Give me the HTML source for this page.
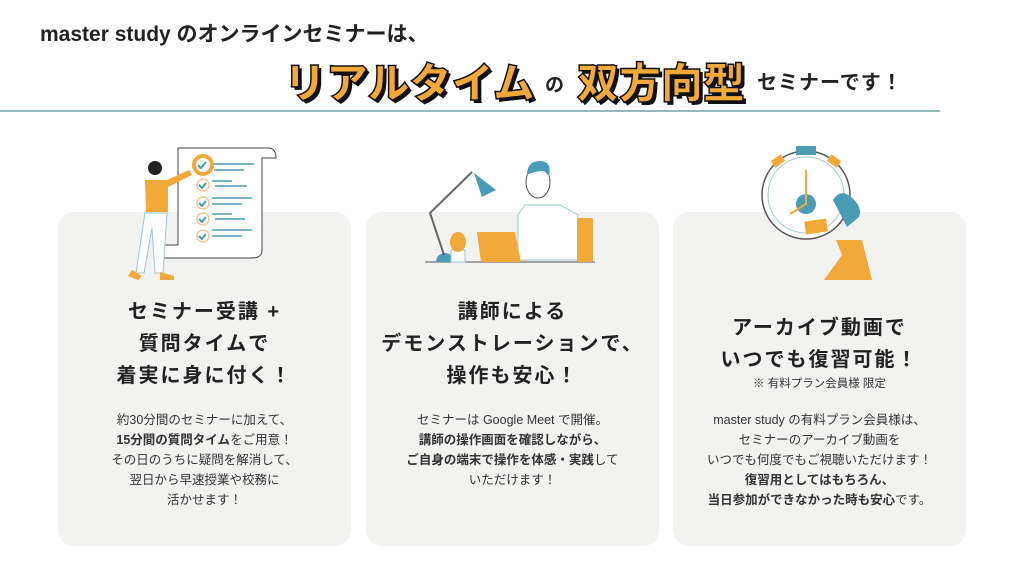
<!DOCTYPE html>
<html><head><meta charset="utf-8"><style>
body{margin:0;width:1024px;height:576px;background:#fff;position:relative;overflow:hidden;font-family:"Liberation Sans","Noto Sans CJK JP",sans-serif;color:#222}
.a{position:absolute;white-space:nowrap}
.card{position:absolute;top:212px;width:293px;height:334px;background:#f2f2f1;border-radius:16px}
.t{position:absolute;left:0;width:100%;text-align:center;font-weight:bold;font-size:20px;line-height:32px;letter-spacing:2px;color:#222}
.b{position:absolute;left:0;width:100%;text-align:center;font-size:12.5px;line-height:20px;color:#333}
.big{font-weight:900;font-size:42px;color:#f3a93a;-webkit-text-stroke:1.5px #111;text-shadow:3px 3px 0 #111}
</style></head><body>
<div class="a" style="left:40px;top:18px;font-size:21px;font-weight:bold">master study のオンラインセミナーは、</div>
<div class="a big" style="left:284px;top:50px">リアルタイム</div>
<div class="a" style="left:545px;top:70px;font-size:19px;font-weight:bold">の</div>
<div class="a big" style="left:577px;top:50px">双方向型</div>
<div class="a" style="left:757px;top:66px;font-size:20px;font-weight:bold;letter-spacing:1px">セミナーです！</div>
<div class="a" style="left:0;top:110px;width:940px;height:2px;background:#93b9b9"></div>

<div class="card" style="left:58px">
<div class="t" style="top:84px">セミナー受講 +<br>質問タイムで<br>着実に身に付く！</div>
<div class="b" style="top:198px">約30分間のセミナーに加えて、<br><b>15分間の質問タイム</b>をご用意！<br>その日のうちに疑問を解消して、<br>翌日から早速授業や校務に<br>活かせます！</div>
</div>
<div class="card" style="left:366px">
<div class="t" style="top:84px">講師による<br>デモンストレーションで、<br>操作も安心！</div>
<div class="b" style="top:198px">セミナーは Google Meet で開催。<br><b>講師の操作画面を確認しながら、<br>ご自身の端末で操作を体感・実践</b>して<br>いただけます！</div>
</div>
<div class="card" style="left:673px">
<div class="t" style="top:100px">アーカイブ動画で<br>いつでも復習可能！</div>
<div class="b" style="top:162px;font-size:11.5px">※ 有料プラン会員様 限定</div>
<div class="b" style="top:198px">master study の有料プラン会員様は、<br>セミナーのアーカイブ動画を<br>いつでも何度でもご視聴いただけます！<br><b>復習用としてはもちろん、<br>当日参加ができなかった時も安心</b>です。</div>
</div>

<svg class="a" style="left:0;top:0" width="1024" height="576">
<!-- doc -->
<path d="M178 148 H268 Q276 148 276 158 H262 V250 Q262 258 252 258 H158 V245 H178 Z" fill="#fff" stroke="#444" stroke-width="1"/>
<g fill="none" stroke-width="1.5">
<circle cx="203" cy="165" r="9" stroke="#f3a93a" stroke-width="4"/>
<circle cx="203" cy="185" r="6" stroke="#f3c890"/><circle cx="203" cy="203" r="6" stroke="#f3c890"/><circle cx="203" cy="219" r="6" stroke="#f3c890"/><circle cx="203" cy="236" r="6" stroke="#f3c890"/>
<path d="M198 165l3 3 5-6M199 185l3 3 4-5M199 203l3 3 4-5M199 219l3 3 4-5M199 236l3 3 4-5" stroke="#4a9bb5" stroke-width="2"/>
<path d="M214 164h40M214 170h30M212 181h20M215 186h32M212 198h40M212 204h30M212 214h20M215 219h30M212 230h40M212 236h30" stroke="#4a9bb5"/>
</g>
<path d="M145 180 h22 l22 -10 3 5 -24 12 v25 h-22z" fill="#f3a93a"/>
<path d="M145 213 h22 l-4 60 h-8 l-3-45 -8 45 h-8z" fill="#fff" stroke="#9cc7d6"/>
<circle cx="155" cy="168" r="7" fill="#222"/>
<path d="M132 270 l10 6 -4 4 -10-4zM160 272 l14 4 v4 h-14z" fill="#f3a93a"/>
<!-- desk -->
<line x1="425" y1="262" x2="595" y2="262" stroke="#555"/>
<path d="M436 262 a9 9 0 0 1 18 0z" fill="#4a9bb5"/>
<path d="M444 255 L430 213 L472 172" fill="none" stroke="#666" stroke-width="2"/>
<path d="M474 173 L496 190 L482 197z" fill="#4a9bb5"/>
<rect x="451" y="250" width="14" height="12" fill="#fff" stroke="#9cc7d6"/>
<ellipse cx="458" cy="242" rx="8" ry="10" fill="#f3a93a"/>
<path d="M525 205 h35 l18 10 v45 h-60 v-45z" fill="#fff" stroke="#9cc7d6"/>
<rect x="577" y="218" width="16" height="44" rx="2" fill="#f3a93a"/>
<path d="M477 232 h38 l6 30 h-40z" fill="#f3a93a"/>
<ellipse cx="538" cy="182" rx="12" ry="16" fill="#fff" stroke="#555"/>
<path d="M527 175 q0-15 15-14 q10 2 7 15 l-5-5 q-10 0-17 4z" fill="#4a9bb5"/>
<!-- clock -->
<circle cx="806" cy="195" r="44" fill="#fff" stroke="#555" stroke-width="1.5"/>
<circle cx="806" cy="195" r="38" fill="none" stroke="#9cc7d6"/>
<rect x="796" y="146" width="20" height="9" fill="#4a9bb5"/>
<rect x="772" y="157" width="12" height="8" fill="#f3a93a" transform="rotate(-35 778 161)"/>
<rect x="828" y="157" width="12" height="8" fill="#f3a93a" transform="rotate(35 834 161)"/>
<circle cx="806" cy="204" r="10" fill="#4a9bb5"/>
<path d="M806 170 V204 L790 214" fill="none" stroke="#f3a93a" stroke-width="2"/>
<path d="M842 255 l-6-15 h26 l10 40 h-48z" fill="#f3a93a"/>
<path d="M833 200 q8-12 18-3 q12 10 8 20 l-12 10 z" fill="#4a9bb5"/>
<path d="M805 220 h22 v13 h-22z" fill="#f3a93a" transform="rotate(-8 816 226)"/>
</svg>
</body></html>
